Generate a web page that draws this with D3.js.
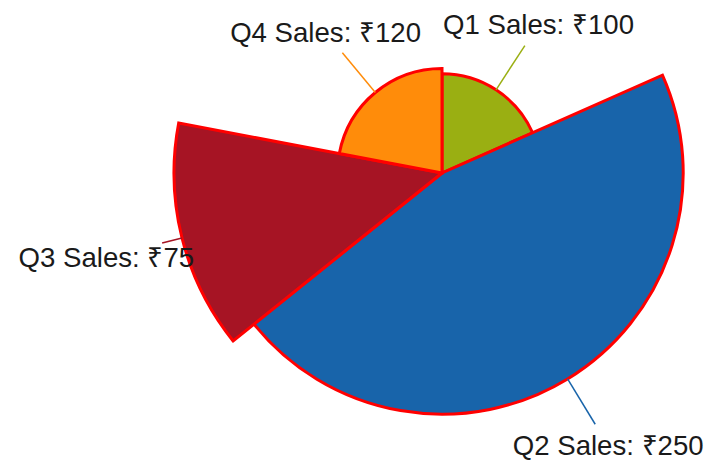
<!DOCTYPE html>
<html>
<head>
<meta charset="utf-8">
<script src="https://cdn.jsdelivr.net/npm/d3@7/dist/d3.min.js"></script>
<style>
  html, body { margin: 0; padding: 0; background: #fff; }
  svg { display: block; }
</style>
</head>
<body>
<svg id="chart" width="710" height="470"></svg>
<script>
// Quarterly sales shown as a pie whose slices also differ in reach
const categories = ["Q1", "Q2", "Q3", "Q4"];
const sales = [100, 250, 75, 120];
const reach = [37, 90, 100, 39];          // relative outer radius (0–100)
const sliceColors = ["#9aaf12", "#1864aa", "#a61424", "#ff8c0a"];
const labelText = categories.map((c, i) => `${c} Sales: ₹${sales[i]}`);

const width = 710, height = 470;
const cx = 442, cy = 173;
const maxRadius = 268;
const fontSize = 27.6;
const labelGap = 78;     // label centre beyond the arc
const lineGap = 57;      // leader length beyond the arc

const data = categories.map((c, i) => ({ cat: c, value: sales[i], reach: reach[i], color: sliceColors[i], label: labelText[i] }));

const rScale = d3.scaleLinear().domain([0, 100]).range([0, maxRadius]);
const pie = d3.pie().sort(null).value(d => d.value);
const arcs = pie(data);

const svg = d3.select("#chart");
const g = svg.append("g").attr("transform", `translate(${cx},${cy})`);

const arcGen = d3.arc().innerRadius(0);

// slices
g.selectAll("path.slice")
  .data(arcs)
  .join("path")
  .attr("class", "slice")
  .attr("d", d => arcGen.outerRadius(rScale(d.data.reach))(d))
  .attr("fill", d => d.data.color)
  .attr("stroke", "#ff0000")
  .attr("stroke-width", 3)
  .attr("stroke-linejoin", "miter");

// labels centred on each slice's mid ray, with leader lines
const lineLayer = g.append("g");
const textLayer = g.append("g");
arcs.forEach(d => {
  const a = (d.startAngle + d.endAngle) / 2;
  const ux = Math.sin(a), uy = -Math.cos(a);
  const r = rScale(d.data.reach);
  const lr = r + labelGap;
  const tx = ux * lr, ty = uy * lr;

  const txt = textLayer.append("text")
    .attr("font-family", "'Liberation Sans', Arial, Helvetica, sans-serif")
    .attr("font-size", fontSize)
    .attr("fill", "#1a1a1a")
    .attr("text-anchor", "middle")
    .attr("x", tx)
    .attr("y", ty + fontSize * 0.358)
    .text(d.data.label);
  const w = txt.node().getComputedTextLength();
  const h = fontSize * 0.8;

  // the leader stops short of the label box
  const entry = lr - Math.min((w / 2) / Math.max(Math.abs(ux), 1e-6), (h / 2) / Math.max(Math.abs(uy), 1e-6));
  const endR = Math.min(r + lineGap, entry - 12);

  lineLayer.append("line")
    .attr("x1", ux * r).attr("y1", uy * r)
    .attr("x2", ux * endR).attr("y2", uy * endR)
    .attr("stroke", d.data.color)
    .attr("stroke-width", 1.5);
});
</script>
</body>
</html>
